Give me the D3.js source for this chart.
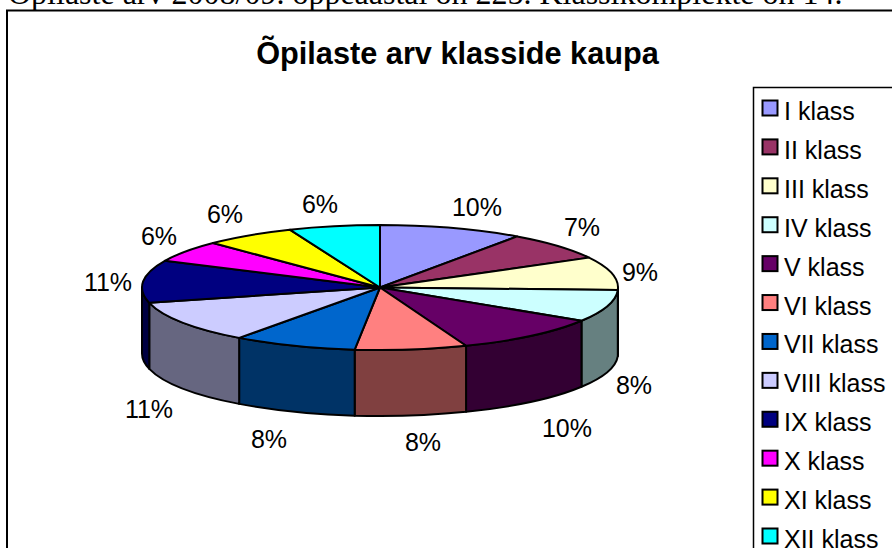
<!DOCTYPE html>
<html>
<head>
<meta charset="utf-8">
<script src="https://cdn.jsdelivr.net/npm/d3@7"></script>
<style>
  html, body { margin: 0; padding: 0; background: #fff; overflow: hidden; }
  svg { display: block; }
</style>
</head>
<body>
<svg id="chart" width="892" height="548"></svg>
<script>
const heading = "Õpilaste arv 2008/09. õppeaastal on 225. Klassikomplekte on 14.";
const chartTitle = "Õpilaste arv klasside kaupa";
const classes = ["I klass", "II klass", "III klass", "IV klass", "V klass", "VI klass",
  "VII klass", "VIII klass", "IX klass", "X klass", "XI klass", "XII klass"];
// shares in percent, estimated from the slice boundaries
const shares = [9.8, 7.3, 8.6, 8.3, 10.2, 7.6, 8.4, 11, 11, 5.6, 6.2, 6.2];
const colors = ["#9999FF", "#993366", "#FFFFCC", "#CCFFFF", "#660066", "#FF8080",
  "#0066CC", "#CCCCFF", "#000080", "#FF00FF", "#FFFF00", "#00FFFF"];
const labelX = [477, 582, 640, 634, 567, 423, 269, 149, 108, 159, 225, 320];
const labelY = [207, 227, 272, 385, 428, 442, 439, 409, 282, 236, 214, 204];

const svg = d3.select("#chart");
const cx = 380, cy = 287.5, rx = 238, ry = 62.5, depth = 66;

// cut by the top edge of the page, same as in the original screenshot
svg.append("text")
  .attr("x", 8).attr("y", 3.5)
  .attr("font-family", "Liberation Serif")
  .attr("font-size", 32)
  .text(heading);

// frame, open at right and bottom like the clipped original
svg.append("path")
  .attr("d", "M7,548V10.5H892")
  .attr("fill", "none").attr("stroke", "#000").attr("stroke-width", 2);

svg.append("text")
  .attr("x", 457.5).attr("y", 64)
  .attr("text-anchor", "middle")
  .attr("font-family", "Liberation Sans")
  .attr("font-weight", "bold")
  .attr("font-size", 30.7)
  .text(chartTitle);

const total = d3.sum(shares);
const slices = d3.pie().sort(null).value(d => d)(shares);
const px = a => cx + rx * Math.sin(a);
const py = a => cy - ry * Math.cos(a);

const g = svg.append("g");

// side walls, only the part of each slice facing the viewer
const walls = slices
  .map((s, i) => ({
    i,
    a0: Math.max(s.startAngle, Math.PI / 2),
    a1: Math.min(s.endAngle, Math.PI * 1.5)
  }))
  .filter(d => d.a1 > d.a0);

g.selectAll("path.wall")
  .data(walls)
  .enter()
  .append("path")
  .attr("class", "wall")
  .attr("d", d =>
    `M${px(d.a0)},${py(d.a0)}` +
    `A${rx},${ry} 0 0 1 ${px(d.a1)},${py(d.a1)}` +
    `V${py(d.a1) + depth}` +
    `A${rx},${ry} 0 0 0 ${px(d.a0)},${py(d.a0) + depth}Z`)
  .attr("fill", d => {
    const c = d3.rgb(colors[d.i]);
    return d3.rgb(c.r * 0.5, c.g * 0.5, c.b * 0.5);
  })
  .attr("stroke", "#000")
  .attr("stroke-width", 2)
  .attr("stroke-linejoin", "round");

// top face: circular arcs squashed to an ellipse
const arc = d3.arc().innerRadius(0).outerRadius(rx);
g.append("g")
  .attr("transform", `translate(${cx},${cy}) scale(1,${ry / rx})`)
  .selectAll("path")
  .data(slices)
  .enter()
  .append("path")
  .attr("d", arc)
  .attr("fill", (d, i) => colors[i])
  .attr("stroke", "#000")
  .attr("stroke-width", 2)
  .attr("stroke-linejoin", "round")
  .attr("vector-effect", "non-scaling-stroke");

svg.append("g").selectAll("text")
  .data(shares)
  .enter()
  .append("text")
  .attr("x", (d, i) => labelX[i])
  .attr("y", (d, i) => labelY[i] + 9)
  .attr("text-anchor", "middle")
  .attr("font-family", "Liberation Sans")
  .attr("font-size", 25)
  .text(d => d3.format(".0%")(d / total));

// legend, runs off the bottom and right of the picture
svg.append("path")
  .attr("d", "M892,87.5H753.5V548")
  .attr("fill", "none").attr("stroke", "#000").attr("stroke-width", 1.5);

const legendY = d3.scalePoint().domain(classes).range([110, 538]);

const legend = svg.append("g").selectAll("g")
  .data(classes)
  .enter()
  .append("g")
  .attr("transform", d => `translate(0,${legendY(d)})`);

legend.append("rect")
  .attr("x", 762.5).attr("y", -9.5)
  .attr("width", 15).attr("height", 15)
  .attr("fill", (d, i) => colors[i])
  .attr("stroke", "#000")
  .attr("stroke-width", 2);

legend.append("text")
  .attr("x", 784).attr("y", 10)
  .attr("font-family", "Liberation Sans")
  .attr("font-size", 25)
  .text(d => d);
</script>
</body>
</html>
